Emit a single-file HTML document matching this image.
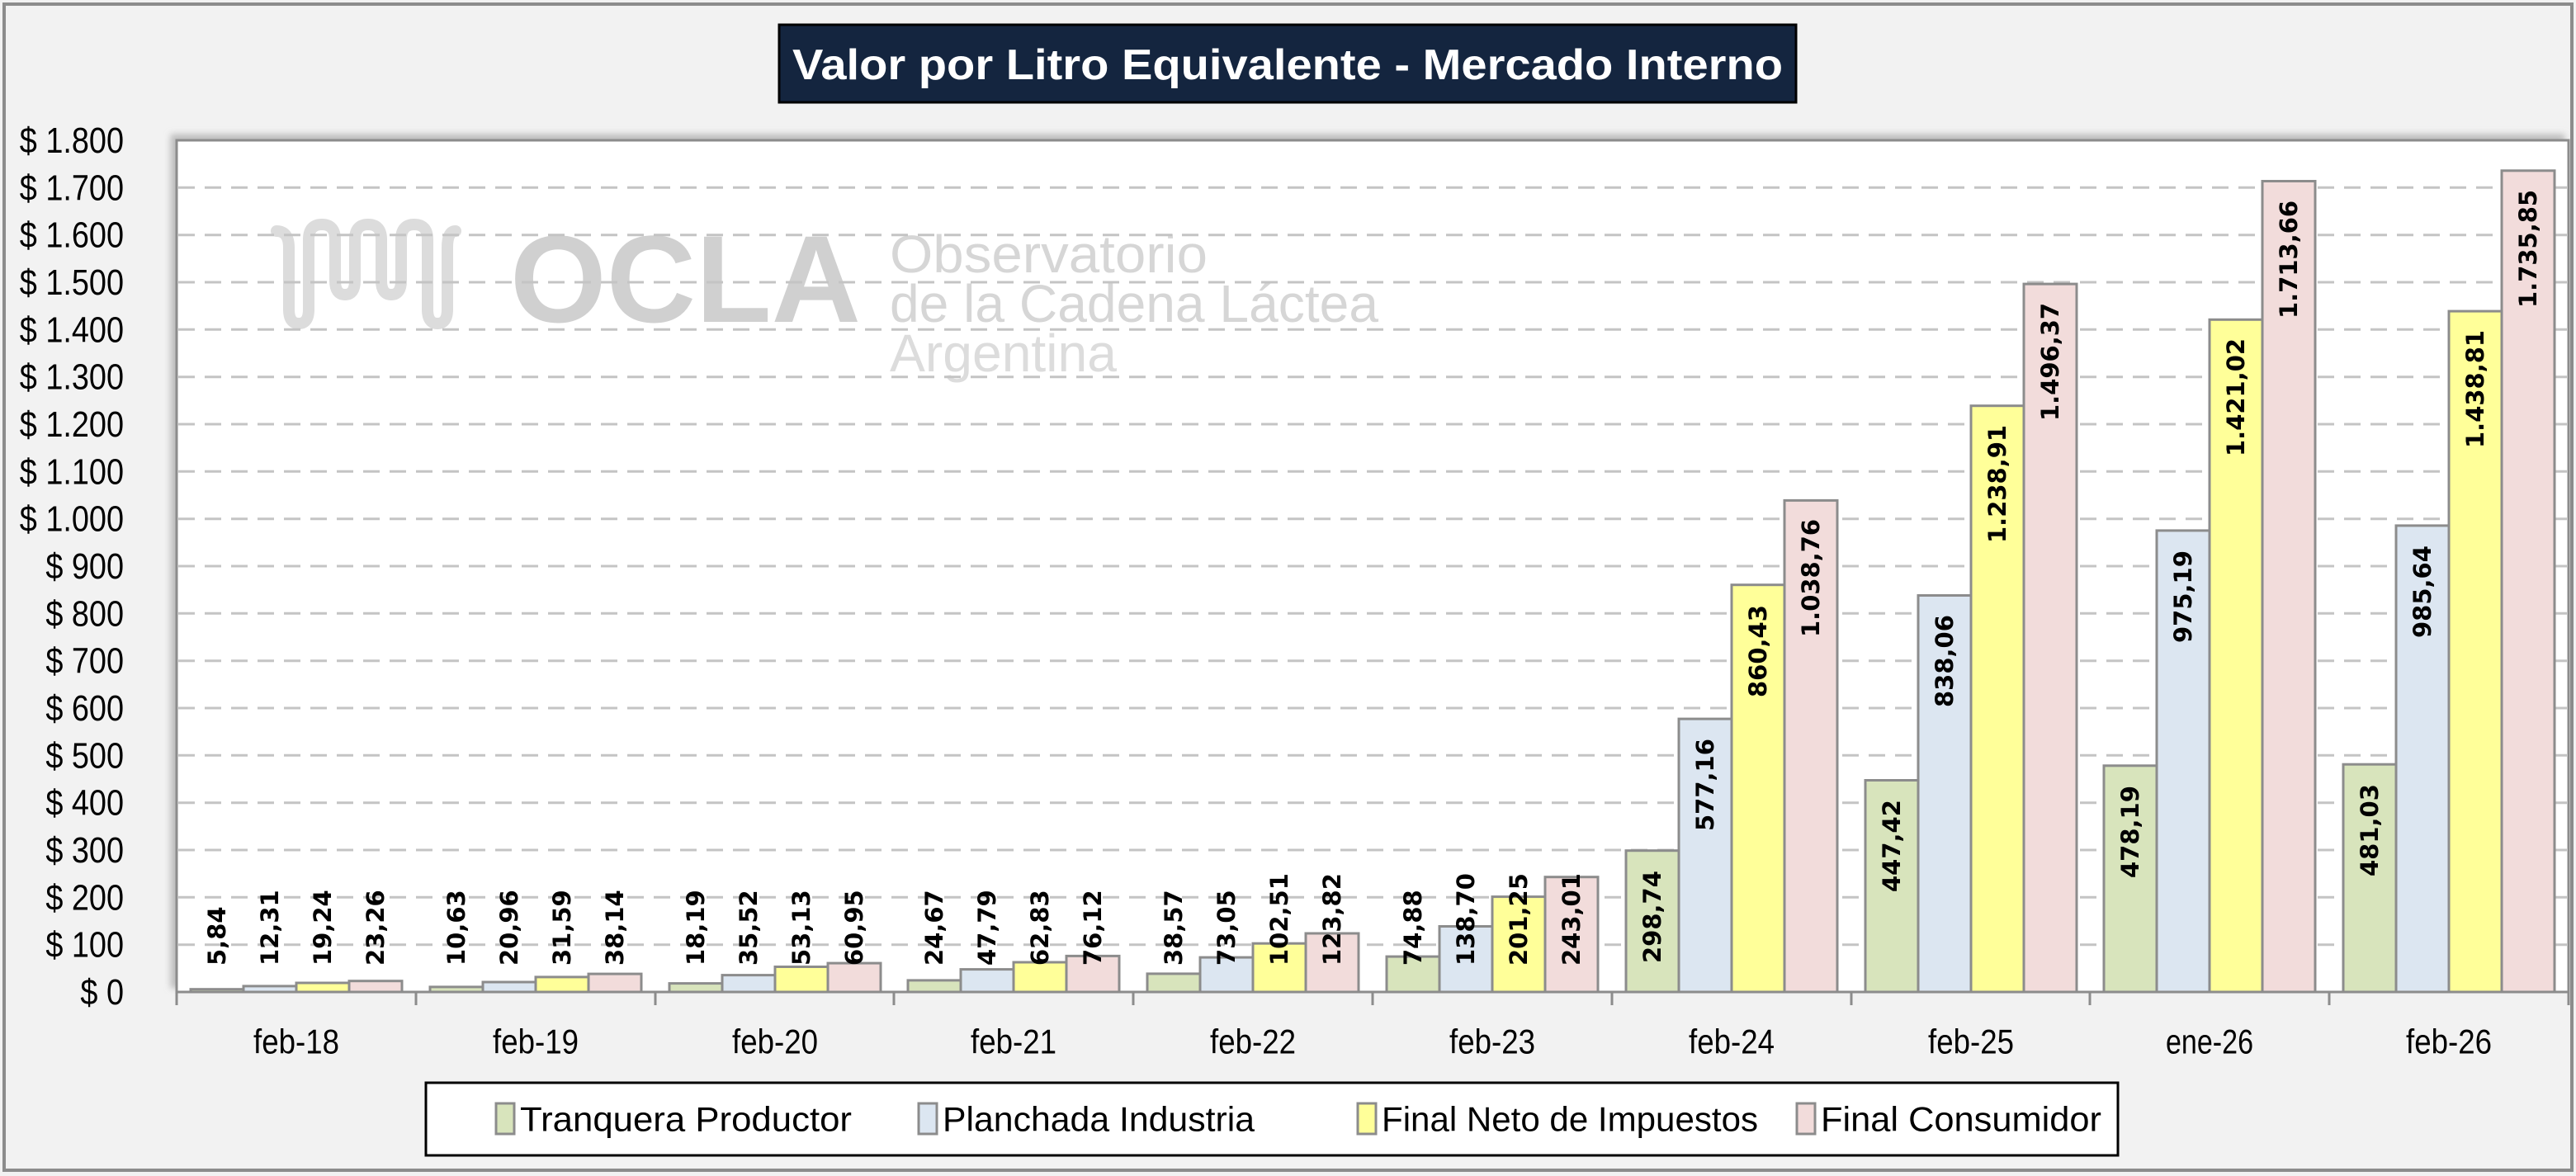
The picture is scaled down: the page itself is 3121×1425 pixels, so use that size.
<!DOCTYPE html>
<html><head><meta charset="utf-8"><style>
html,body{margin:0;padding:0;background:#f2f2f2;}
svg{display:block;}
</style></head><body>
<svg width="3121" height="1425" viewBox="0 0 3121 1425" xmlns="http://www.w3.org/2000/svg">
<defs>
<filter id="sh" x="-5%" y="-5%" width="110%" height="110%"><feDropShadow dx="-6" dy="-6" stdDeviation="4" flood-color="#999" flood-opacity="0.6"/></filter>
</defs>
<rect x="0" y="0" width="3121" height="1425" fill="#f2f2f2"/>
<rect x="5" y="5" width="3111" height="1413" fill="none" stroke="#8c8c8c" stroke-width="4"/>
<!-- title -->
<rect x="944" y="30" width="1232" height="94" fill="#14253f" stroke="#000" stroke-width="3"/>
<text x="1560" y="79" fill="#fff" font-family="Liberation Sans, sans-serif" font-weight="bold" font-size="52" text-anchor="middle" dominant-baseline="central" textLength="1200" lengthAdjust="spacingAndGlyphs">Valor por Litro Equivalente - Mercado Interno</text>
<!-- plot area -->
<rect x="214" y="170" width="2898" height="1032" fill="#fff" stroke="#8c8c8c" stroke-width="3" filter="url(#sh)"/>
<!-- watermark -->
<g fill="none" stroke="#dcdcdc" stroke-width="14" stroke-linecap="round">
<path d="M335 280 Q350 280 350 300 L350 375 Q350 392 362 392 Q374 392 374 375 L374 290 Q374 272 390 272 Q406 272 406 290 L406 340 Q406 357 418 357 Q430 357 430 340 L430 290 Q430 272 446 272 Q462 272 462 290 L462 340 Q462 357 474 357 Q486 357 486 340 L486 290 Q486 272 502 272 Q518 272 518 290 L518 375 Q518 392 530 392 Q542 392 542 375 L542 300 Q542 280 552 280"/>
</g>
<text x="618" y="390" fill="#d0d0d0" font-family="Liberation Sans, sans-serif" font-weight="bold" font-size="150" textLength="425" lengthAdjust="spacingAndGlyphs">OCLA</text>
<g fill="#d6d6d6" font-family="Liberation Sans, sans-serif" font-size="64">
<text x="1078" y="330" textLength="385" lengthAdjust="spacingAndGlyphs">Observatorio</text>
<text x="1078" y="390" textLength="592" lengthAdjust="spacingAndGlyphs">de la Cadena Láctea</text>
<text x="1078" y="450" textLength="275" lengthAdjust="spacingAndGlyphs" fill="#dcdcdc">Argentina</text>
</g>
<!-- gridlines -->
<g stroke="#c4c4c4" stroke-width="3" stroke-dasharray="20 12">
<line x1="216" x2="3110" y1="1144.7" y2="1144.7"/>
<line x1="216" x2="3110" y1="1087.3" y2="1087.3"/>
<line x1="216" x2="3110" y1="1030" y2="1030"/>
<line x1="216" x2="3110" y1="972.7" y2="972.7"/>
<line x1="216" x2="3110" y1="915.3" y2="915.3"/>
<line x1="216" x2="3110" y1="858" y2="858"/>
<line x1="216" x2="3110" y1="800.7" y2="800.7"/>
<line x1="216" x2="3110" y1="743.3" y2="743.3"/>
<line x1="216" x2="3110" y1="686" y2="686"/>
<line x1="216" x2="3110" y1="628.7" y2="628.7"/>
<line x1="216" x2="3110" y1="571.3" y2="571.3"/>
<line x1="216" x2="3110" y1="514" y2="514"/>
<line x1="216" x2="3110" y1="456.7" y2="456.7"/>
<line x1="216" x2="3110" y1="399.3" y2="399.3"/>
<line x1="216" x2="3110" y1="342" y2="342"/>
<line x1="216" x2="3110" y1="284.7" y2="284.7"/>
<line x1="216" x2="3110" y1="227.3" y2="227.3"/>
</g>
<!-- y labels -->
<g transform="translate(150,0) scale(0.86,1)" font-family="Liberation Sans, sans-serif" font-size="44" text-anchor="end" dominant-baseline="central" fill="#000">
<text x="0" y="1202">$ 0</text>
<text x="0" y="1144.7">$ 100</text>
<text x="0" y="1087.3">$ 200</text>
<text x="0" y="1030">$ 300</text>
<text x="0" y="972.7">$ 400</text>
<text x="0" y="915.3">$ 500</text>
<text x="0" y="858">$ 600</text>
<text x="0" y="800.7">$ 700</text>
<text x="0" y="743.3">$ 800</text>
<text x="0" y="686">$ 900</text>
<text x="0" y="628.7">$ 1.000</text>
<text x="0" y="571.3">$ 1.100</text>
<text x="0" y="514">$ 1.200</text>
<text x="0" y="456.7">$ 1.300</text>
<text x="0" y="399.3">$ 1.400</text>
<text x="0" y="342">$ 1.500</text>
<text x="0" y="284.7">$ 1.600</text>
<text x="0" y="227.3">$ 1.700</text>
<text x="0" y="170">$ 1.800</text>
</g>
<!-- bars -->
<g stroke="#8c8c8c" stroke-width="3">
<g fill="#d8e4bc">
<rect x="231" y="1198.7" width="64" height="3.3"/>
<rect x="521" y="1195.9" width="64" height="6.1"/>
<rect x="811" y="1191.6" width="64" height="10.4"/>
<rect x="1100" y="1187.9" width="64" height="14.1"/>
<rect x="1390" y="1179.9" width="64" height="22.1"/>
<rect x="1680" y="1159.1" width="64" height="42.9"/>
<rect x="1970" y="1030.7" width="64" height="171.3"/>
<rect x="2260" y="945.5" width="64" height="256.5"/>
<rect x="2549" y="927.8" width="64" height="274.2"/>
<rect x="2839" y="926.2" width="64" height="275.8"/>
</g>
<g fill="#dce6f1">
<rect x="295" y="1194.9" width="64" height="7.1"/>
<rect x="585" y="1190" width="64" height="12"/>
<rect x="875" y="1181.6" width="64" height="20.4"/>
<rect x="1164" y="1174.6" width="64" height="27.4"/>
<rect x="1454" y="1160.1" width="64" height="41.9"/>
<rect x="1744" y="1122.5" width="64" height="79.5"/>
<rect x="2034" y="871.1" width="64" height="330.9"/>
<rect x="2324" y="721.5" width="64" height="480.5"/>
<rect x="2613" y="642.9" width="64" height="559.1"/>
<rect x="2903" y="636.9" width="64" height="565.1"/>
</g>
<g fill="#ffff99">
<rect x="359" y="1191" width="64" height="11"/>
<rect x="649" y="1183.9" width="64" height="18.1"/>
<rect x="939" y="1171.5" width="64" height="30.5"/>
<rect x="1228" y="1166" width="64" height="36"/>
<rect x="1518" y="1143.2" width="64" height="58.8"/>
<rect x="1808" y="1086.6" width="64" height="115.4"/>
<rect x="2098" y="708.7" width="64" height="493.3"/>
<rect x="2388" y="491.7" width="64" height="710.3"/>
<rect x="2677" y="387.3" width="64" height="814.7"/>
<rect x="2967" y="377.1" width="64" height="824.9"/>
</g>
<g fill="#f2dcdb">
<rect x="423" y="1188.7" width="64" height="13.3"/>
<rect x="713" y="1180.1" width="64" height="21.9"/>
<rect x="1003" y="1167.1" width="64" height="34.9"/>
<rect x="1292" y="1158.4" width="64" height="43.6"/>
<rect x="1582" y="1131" width="64" height="71"/>
<rect x="1872" y="1062.7" width="64" height="139.3"/>
<rect x="2162" y="606.4" width="64" height="595.6"/>
<rect x="2452" y="344.1" width="64" height="857.9"/>
<rect x="2741" y="219.5" width="64" height="982.5"/>
<rect x="3031" y="206.8" width="64" height="995.2"/>
</g>
</g>
<!-- x axis -->
<g stroke="#8c8c8c" stroke-width="3">
<line x1="214" x2="3112" y1="1202" y2="1202"/>
<line x1="214" x2="214" y1="1202" y2="1218"/>
<line x1="504" x2="504" y1="1202" y2="1218"/>
<line x1="794" x2="794" y1="1202" y2="1218"/>
<line x1="1083" x2="1083" y1="1202" y2="1218"/>
<line x1="1373" x2="1373" y1="1202" y2="1218"/>
<line x1="1663" x2="1663" y1="1202" y2="1218"/>
<line x1="1953" x2="1953" y1="1202" y2="1218"/>
<line x1="2243" x2="2243" y1="1202" y2="1218"/>
<line x1="2532" x2="2532" y1="1202" y2="1218"/>
<line x1="2822" x2="2822" y1="1202" y2="1218"/>
<line x1="3112" x2="3112" y1="1202" y2="1218"/>
</g>
<g font-family="Liberation Sans, sans-serif" font-size="42" text-anchor="middle" dominant-baseline="central" fill="#000">
<text x="359" y="1262" textLength="104" lengthAdjust="spacingAndGlyphs">feb-18</text>
<text x="649" y="1262" textLength="104" lengthAdjust="spacingAndGlyphs">feb-19</text>
<text x="939" y="1262" textLength="104" lengthAdjust="spacingAndGlyphs">feb-20</text>
<text x="1228" y="1262" textLength="104" lengthAdjust="spacingAndGlyphs">feb-21</text>
<text x="1518" y="1262" textLength="104" lengthAdjust="spacingAndGlyphs">feb-22</text>
<text x="1808" y="1262" textLength="104" lengthAdjust="spacingAndGlyphs">feb-23</text>
<text x="2098" y="1262" textLength="104" lengthAdjust="spacingAndGlyphs">feb-24</text>
<text x="2388" y="1262" textLength="104" lengthAdjust="spacingAndGlyphs">feb-25</text>
<text x="2677" y="1262" textLength="106" lengthAdjust="spacingAndGlyphs">ene-26</text>
<text x="2967" y="1262" textLength="104" lengthAdjust="spacingAndGlyphs">feb-26</text>
</g>
<!-- data labels -->
<g font-family="DejaVu Sans, sans-serif" font-weight="bold" font-size="29" dominant-baseline="central" fill="#000">
<text transform="translate(263,1170) rotate(-90)">5,84</text>
<text transform="translate(327,1170) rotate(-90)">12,31</text>
<text transform="translate(391,1170) rotate(-90)">19,24</text>
<text transform="translate(455,1170) rotate(-90)">23,26</text>
<text transform="translate(553,1170) rotate(-90)">10,63</text>
<text transform="translate(617,1170) rotate(-90)">20,96</text>
<text transform="translate(681,1170) rotate(-90)">31,59</text>
<text transform="translate(745,1170) rotate(-90)">38,14</text>
<text transform="translate(843,1170) rotate(-90)">18,19</text>
<text transform="translate(907,1170) rotate(-90)">35,52</text>
<text transform="translate(971,1170) rotate(-90)">53,13</text>
<text transform="translate(1035,1170) rotate(-90)">60,95</text>
<text transform="translate(1132,1170) rotate(-90)">24,67</text>
<text transform="translate(1196,1170) rotate(-90)">47,79</text>
<text transform="translate(1260,1170) rotate(-90)">62,83</text>
<text transform="translate(1324,1170) rotate(-90)">76,12</text>
<text transform="translate(1422,1170) rotate(-90)">38,57</text>
<text transform="translate(1486,1170) rotate(-90)">73,05</text>
<text transform="translate(1550,1170) rotate(-90)">102,51</text>
<text transform="translate(1614,1170) rotate(-90)">123,82</text>
<text transform="translate(1712,1170) rotate(-90)">74,88</text>
<text transform="translate(1776,1170) rotate(-90)">138,70</text>
<text transform="translate(1840,1170) rotate(-90)">201,25</text>
<text transform="translate(1904,1170) rotate(-90)">243,01</text>
<text transform="translate(2002,1167) rotate(-90)">298,74</text>
<text transform="translate(2066,1007) rotate(-90)">577,16</text>
<text transform="translate(2130,845) rotate(-90)">860,43</text>
<text transform="translate(2194,772) rotate(-90)">1.038,76</text>
<text transform="translate(2292,1081) rotate(-90)">447,42</text>
<text transform="translate(2356,857) rotate(-90)">838,06</text>
<text transform="translate(2420,658) rotate(-90)">1.238,91</text>
<text transform="translate(2484,510) rotate(-90)">1.496,37</text>
<text transform="translate(2581,1064) rotate(-90)">478,19</text>
<text transform="translate(2645,779) rotate(-90)">975,19</text>
<text transform="translate(2709,553) rotate(-90)">1.421,02</text>
<text transform="translate(2773,386) rotate(-90)">1.713,66</text>
<text transform="translate(2871,1062) rotate(-90)">481,03</text>
<text transform="translate(2935,773) rotate(-90)">985,64</text>
<text transform="translate(2999,543) rotate(-90)">1.438,81</text>
<text transform="translate(3063,373) rotate(-90)">1.735,85</text>
</g>
<!-- legend -->
<rect x="516" y="1312" width="2050" height="88" fill="#fff" stroke="#000" stroke-width="3"/>
<g stroke="#8c8c8c" stroke-width="3">
<rect x="601" y="1337" width="22" height="37" fill="#d8e4bc"/>
<rect x="1113" y="1337" width="22" height="37" fill="#dce6f1"/>
<rect x="1645" y="1337" width="22" height="37" fill="#ffff99"/>
<rect x="2177" y="1337" width="22" height="37" fill="#f2dcdb"/>
</g>
<g font-family="Liberation Sans, sans-serif" font-size="42" dominant-baseline="central" fill="#000">
<text x="630" y="1356" textLength="402" lengthAdjust="spacingAndGlyphs">Tranquera Productor</text>
<text x="1142" y="1356" textLength="378" lengthAdjust="spacingAndGlyphs">Planchada Industria</text>
<text x="1674" y="1356" textLength="456" lengthAdjust="spacingAndGlyphs">Final Neto de Impuestos</text>
<text x="2206" y="1356" textLength="340" lengthAdjust="spacingAndGlyphs">Final Consumidor</text>
</g>
</svg>
</body></html>
